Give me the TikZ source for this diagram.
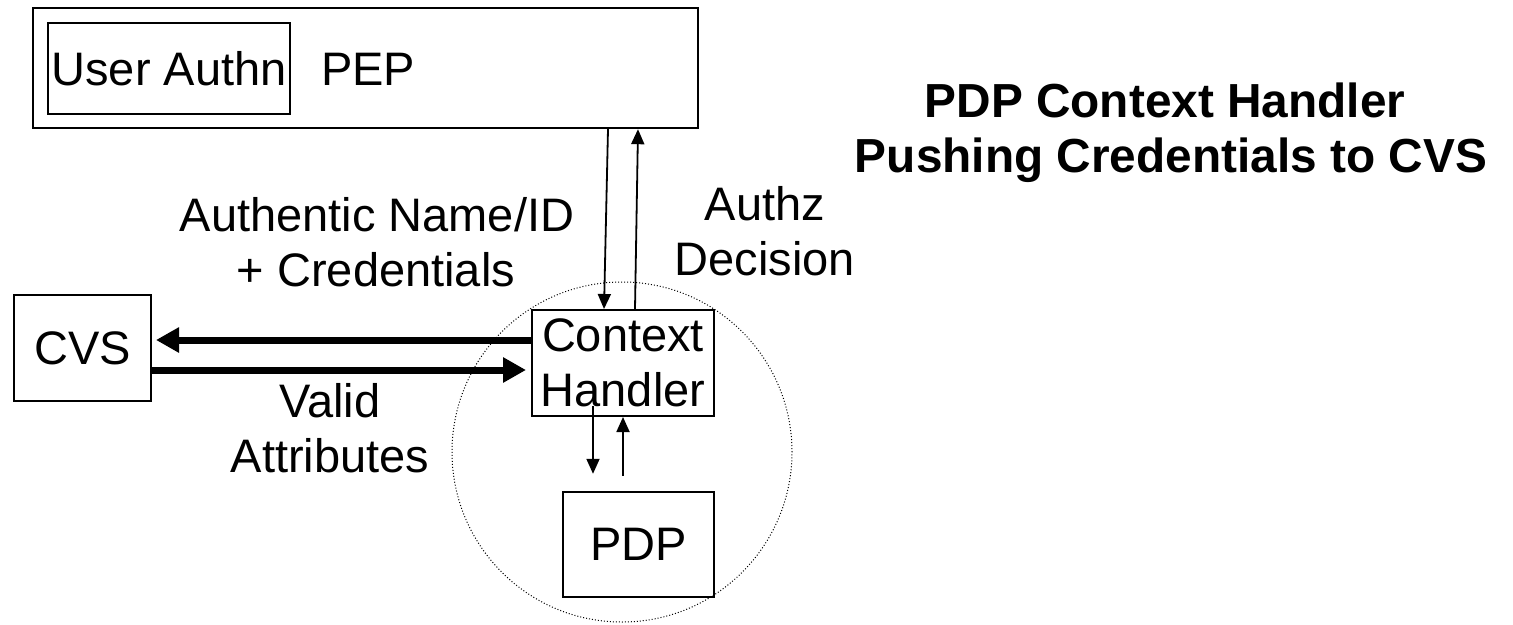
\documentclass[tikz,border=0pt]{standalone}
\usepackage{fontspec}
\setmainfont{Liberation Sans}
\usetikzlibrary{arrows.meta}
\begin{document}
\begin{tikzpicture}[x=1pt,y=-1pt,
  txt/.style={font=\fontsize{47pt}{55pt}\selectfont, inner sep=0pt},
  ttl/.style={font=\fontsize{47.8pt}{56pt}\selectfont\bfseries, inner sep=0pt},
  boxnode/.style={txt, draw, line width=2pt, align=center},
  thinarrow/.style={line width=1.8pt, -{Triangle[length=15pt,width=13pt]}},
  thickarrow/.style={line width=7pt, -{Triangle[length=23pt,width=24pt]}},
  ringline/.style={draw, line width=1pt, dash pattern=on 1pt off 2pt}]
\useasboundingbox (0,0) rectangle (1513,624);

% policy enforcement point with the user authentication part inside
\node[boxnode, line width=2.4pt, minimum width=665pt, minimum height=120pt] (pep) at (365.5,68) {};
\node[boxnode, line width=1.4pt, minimum width=242pt, minimum height=91pt] (ua) at (169,68.5) {User Authn};
\node[txt, anchor=base west] (peplbl) at (321,85) {PEP};

% title
\node[ttl, anchor=base] (title1) at (1165,117) {PDP Context Handler};
\node[ttl, anchor=base] (title2) at (1171,172) {Pushing Credentials to CVS};

% dotted boundary round the decision point
\node[circle, ringline, minimum size=340pt, inner sep=0pt] (ring) at (622,452) {};

% credential validation service, context handler, decision point
\node[boxnode, minimum width=137pt, minimum height=106pt] (cvs) at (82.5,348) {CVS};
\node[boxnode, minimum width=182pt, minimum height=106pt] (ch) at (623,363) {Context\\Handler};
\node[boxnode, line width=2.4pt, minimum width=151pt, minimum height=105pt] (pdp) at (638.5,544.5) {PDP};

% labels
\node[txt, anchor=base] (lblauth1) at (377,231) {Authentic Name/ID};
\node[txt, anchor=base] (lblauth2) at (376,286) {+ Credentials};
\node[txt, anchor=base] (lbldec1) at (765,220) {Authz};
\node[txt, anchor=base] (lbldec2) at (765,275) {Decision};
\node[txt, anchor=base] (lblval1) at (330,417) {Valid};
\node[txt, anchor=base] (lblval2) at (330,472) {Attributes};

% request and decision between PEP and context handler
\draw[thinarrow] ([xshift=242.5pt]pep.south) -- ([xshift=-19pt]ch.north);
\draw[thinarrow] ([xshift=12pt]ch.north) -- ([xshift=272.5pt]pep.south);

% context handler and decision point
\draw[thinarrow] ([xshift=-30pt,yshift=11pt]ch.south) -- ([xshift=-45.5pt,yshift=17pt]pdp.north);
\draw[thinarrow] ([xshift=-15.5pt,yshift=15pt]pdp.north) -- (ch.south);

% credentials pushed to the CVS and the validated attributes returned
\draw[thickarrow] ([yshift=23pt]ch.west) -- ([xshift=4pt,yshift=8pt]cvs.east);
\draw[thickarrow] ([yshift=-22pt]cvs.east) -- ([xshift=-5pt,yshift=-7pt]ch.west);
\end{tikzpicture}
\end{document}
